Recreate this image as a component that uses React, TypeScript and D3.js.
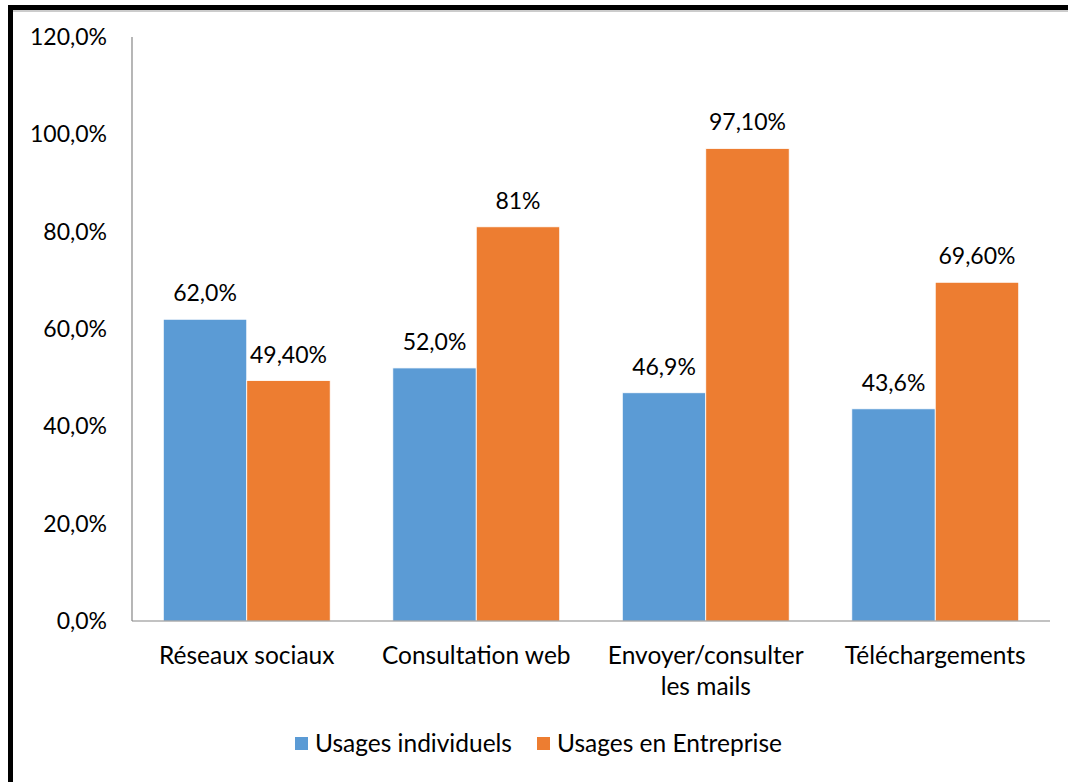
import React from "react";
import * as d3 from "d3";

const categories = [["Réseaux sociaux"], ["Consultation web"], ["Envoyer/consulter", "les mails"], ["Téléchargements"]];
const seriesNames = ["Usages individuels", "Usages en Entreprise"];
const individuels = [62.0, 52.0, 46.9, 43.6];
const entreprise = [49.4, 81, 97.1, 69.6];
const individuelsLabels = ["62,0%", "52,0%", "46,9%", "43,6%"];
const entrepriseLabels = ["49,40%", "81%", "97,10%", "69,60%"];
const yTicks = [0, 20, 40, 60, 80, 100, 120];
const colors = ["#5B9BD5", "#ED7D31"];

const W = 1068;
const H = 782;
const plot = { left: 132, right: 1050, top: 37, bottom: 621 };
const FONT = "Lato, 'Open Sans', sans-serif";
const NUM_SIZE = 23;
const TXT_SIZE = 24.5;

export default function App() {
  const x0 = d3
    .scaleBand<number>()
    .domain(d3.range(categories.length))
    .range([plot.left, plot.right])
    .paddingInner(0)
    .paddingOuter(0);
  const step = x0.bandwidth();
  const barW = step / 2.75;
  const y = d3.scaleLinear().domain([0, 120]).range([plot.bottom, plot.top]);
  const fmt = (v: number) => d3.format(".1f")(v).replace(".", ",") + "%";

  const series = [
    { values: individuels, labels: individuelsLabels },
    { values: entreprise, labels: entrepriseLabels },
  ];

  return (
    <svg
      width={W}
      height={H}
      style={{ position: "absolute", left: 0, top: 0, background: "#fff" }}
      fontFamily={FONT}
    >
      <rect x={0} y={0} width={W} height={H} fill="#fff" />
      {series.map((s, si) =>
        s.values.map((v, i) => {
          const cx = (x0(i) as number) + step / 2;
          const bx = cx - barW + si * barW;
          return (
            <g key={`${si}-${i}`}>
              <rect
                x={bx}
                y={y(v)}
                width={barW}
                height={y(0) - y(v)}
                fill={colors[si]}
                stroke="#fff"
                strokeWidth={0.8}
              />
              <text
                x={bx + barW / 2}
                y={y(v) - 18}
                textAnchor="middle"
                fontSize={NUM_SIZE}
                fill="#000"
              >
                {s.labels[i]}
              </text>
            </g>
          );
        })
      )}
      <line x1={plot.left} x2={plot.left} y1={plot.top} y2={plot.bottom} stroke="#868686" strokeWidth={1.2} />
      <line x1={plot.left} x2={plot.right} y1={plot.bottom} y2={plot.bottom} stroke="#868686" strokeWidth={1.2} />
      {yTicks.map((t) => (
        <text
          key={t}
          x={107}
          y={y(t) + 8}
          textAnchor="end"
          fontSize={NUM_SIZE}
          fill="#000"
        >
          {fmt(t)}
        </text>
      ))}
      {categories.map((lines, i) => (
        <text
          key={i}
          x={(x0(i) as number) + step / 2}
          y={664}
          textAnchor="middle"
          fontSize={TXT_SIZE}
          fill="#000"
        >
          {lines.map((l, li) => (
            <tspan key={li} x={(x0(i) as number) + step / 2} dy={li === 0 ? 0 : 31}>
              {l}
            </tspan>
          ))}
        </text>
      ))}
      <rect x={295} y={737} width={13} height={13} fill={colors[0]} />
      <text x={315} y={752} fontSize={TXT_SIZE} fill="#000">{seriesNames[0]}</text>
      <rect x={537} y={737} width={13} height={13} fill={colors[1]} />
      <text x={557} y={752} fontSize={TXT_SIZE} fill="#000">{seriesNames[1]}</text>
      <line x1={8} x2={W} y1={11} y2={11} stroke="#999" strokeWidth={1} />
      <rect x={10.5} y={7.5} width={W + 20} height={H + 20} fill="none" stroke="#000" strokeWidth={5} />
    </svg>
  );
}
